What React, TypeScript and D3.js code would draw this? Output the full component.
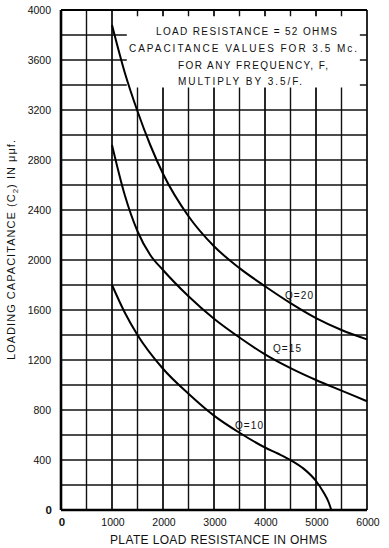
import React from "react";
import * as d3 from "d3";

// plate load resistance (ohms) vs loading capacitance (uuf)
const q20R = [1000, 1250, 1500, 1750, 2000, 2500, 3000, 3500, 4000, 4500, 5000, 5500, 6000];
const q20C = [3880, 3500, 3190, 2920, 2690, 2350, 2110, 1935, 1790, 1655, 1535, 1440, 1365];

const q15R = [1000, 1250, 1500, 1750, 2000, 2500, 3000, 3500, 4000, 4500, 5000, 5500, 6000];
const q15C = [2920, 2520, 2230, 2040, 1920, 1710, 1530, 1380, 1245, 1135, 1040, 955, 870];

const q10R = [1000, 1250, 1500, 2000, 2500, 3000, 3500, 4000, 4250, 4500, 4750, 5000, 5150, 5250, 5300];
const q10C = [1800, 1580, 1400, 1130, 930, 755, 618, 500, 452, 400, 333, 232, 140, 60, 0];

const curveNames = ["Q=20", "Q=15", "Q=10"];

const xTickLabels = ["0", "1000", "2000", "3000", "4000", "5000", "6000"];
const yTickLabels = ["0", "400", "800", "1200", "1600", "2000", "2400", "2800", "3200", "3600", "4000"];

const noteLines = [
  "LOAD RESISTANCE = 52 OHMS",
  "CAPACITANCE  VALUES  FOR  3.5 Mc.",
  "FOR  ANY  FREQUENCY, F,",
  "MULTIPLY  BY  3.5/F.",
];

const W = 389;
const H = 548;
const font = "'Liberation Sans', Arial, sans-serif";

export default function App() {
  const x = d3.scaleLinear().domain([0, 6000]).range([61, 367]);
  const y = d3.scaleLinear().domain([0, 4000]).range([510, 10]);

  const line = d3
    .line<[number, number]>()
    .x((d) => x(d[0]))
    .y((d) => y(d[1]))
    .curve(d3.curveMonotoneX);

  const series = [
    { pts: q20R.map((r, i) => [r, q20C[i]] as [number, number]), lx: 285, ly: 299 },
    { pts: q15R.map((r, i) => [r, q15C[i]] as [number, number]), lx: 273, ly: 352 },
    { pts: q10R.map((r, i) => [r, q10C[i]] as [number, number]), lx: 235, ly: 429 },
  ];

  // white note box sitting on the grid (data coords)
  const box = { x0: 1290, x1: 5860, y0: 3380, y1: 3950 };

  const noteLayout = [
    { x: 156, y: 35, len: 181 },
    { x: 129, y: 52, len: 228 },
    { x: 178, y: 69, len: 150 },
    { x: 178, y: 85, len: 124 },
  ];

  return (
    <svg
      width={W}
      height={H}
      style={{ position: "absolute", left: 0, top: 0, background: "#fff" }}
      fontFamily={font}
    >
      <rect width={W} height={H} fill="#fff" />

      {/* grid */}
      {x.ticks(12).map((t) => (
        <line
          key={"v" + t}
          x1={x(t)}
          x2={x(t)}
          y1={y(0)}
          y2={y(4000)}
          stroke="#111"
          strokeWidth={t % 1000 === 0 ? 1.8 : 1.4}
        />
      ))}
      {y.ticks(20).map((t) => (
        <line
          key={"h" + t}
          x1={x(0)}
          x2={x(6000)}
          y1={y(t)}
          y2={y(t)}
          stroke="#111"
          strokeWidth={1.6}
        />
      ))}

      {/* note box */}
      <rect
        x={x(box.x0)}
        y={y(box.y1)}
        width={x(box.x1) - x(box.x0)}
        height={y(box.y0) - y(box.y1)}
        fill="#fff"
      />
      {noteLines.map((s, i) => (
        <text
          key={s}
          x={noteLayout[i].x}
          y={noteLayout[i].y}
          fontSize={10}
          textLength={noteLayout[i].len}
          lengthAdjust="spacing"
          fill="#111"
        >
          {s}
        </text>
      ))}

      {/* axes frame */}
      <line x1={x(0)} x2={x(0)} y1={y(0)} y2={y(4000)} stroke="#000" strokeWidth={2.6} />
      <line x1={x(0)} x2={x(6000)} y1={y(0)} y2={y(0)} stroke="#000" strokeWidth={2.6} />
      <line x1={x(0)} x2={x(6000)} y1={y(4000)} y2={y(4000)} stroke="#000" strokeWidth={2} />

      {/* curves */}
      {series.map((s, i) => (
        <g key={curveNames[i]}>
          <path d={line(s.pts) || ""} fill="none" stroke="#000" strokeWidth={2} />
          <text x={s.lx} y={s.ly} fontSize={10} fill="#111" textLength={28} lengthAdjust="spacing">
            {curveNames[i]}
          </text>
        </g>
      ))}

      {/* tick labels */}
      {yTickLabels.map((l) => (
        <text
          key={"yl" + l}
          x={l === "0" ? 52 : 51}
          y={y(+l) + 4}
          textAnchor="end"
          fontSize={l === "0" ? 11.5 : 10.5}
          fontWeight={l === "0" ? "bold" : "normal"}
          fill="#111"
        >
          {l}
        </text>
      ))}
      {xTickLabels.map((l) => (
        <text
          key={"xl" + l}
          x={x(+l) + 1}
          y={526}
          textAnchor="middle"
          fontSize={l === "0" ? 11.5 : 10.5}
          fontWeight={l === "0" ? "bold" : "normal"}
          fill="#111"
        >
          {l}
        </text>
      ))}

      {/* axis titles */}
      <text
        x={110}
        y={544}
        fontSize={12}
        textLength={217}
        lengthAdjust="spacing"
        fill="#111"
      >
        PLATE LOAD RESISTANCE IN OHMS
      </text>
      <text
        transform="translate(15,360) rotate(-90)"
        x={0}
        y={0}
        fontSize={11}
        textLength={220}
        lengthAdjust="spacing"
        fill="#111"
      >
        LOADING CAPACITANCE (C<tspan fontSize={8} dy={3}>2</tspan>
        <tspan dy={-3}>) IN μμf.</tspan>
      </text>
    </svg>
  );
}
